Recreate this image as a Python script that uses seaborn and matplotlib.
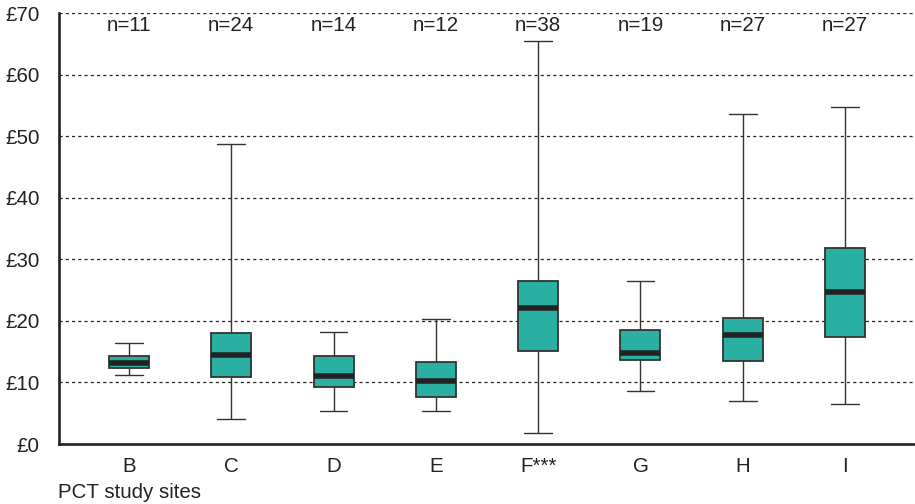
import matplotlib
matplotlib.use("Agg")
import matplotlib.pyplot as plt
import seaborn as sns
import pandas as pd

sites = ["B", "C", "D", "E", "F***", "G", "H", "I"]
counts = [11, 24, 14, 12, 38, 19, 27, 27]
whisker_low = [11.2, 4.1, 5.4, 5.3, 1.8, 8.6, 7.0, 6.5]
q1 = [12.3, 10.9, 9.3, 7.6, 15.1, 13.6, 13.5, 17.4]
median = [13.1, 14.4, 11.1, 10.3, 22.1, 14.8, 17.7, 24.7]
q3 = [14.3, 18.0, 14.3, 13.3, 26.5, 18.5, 20.5, 31.8]
whisker_high = [16.4, 48.7, 18.2, 20.3, 65.4, 26.5, 53.6, 54.7]
yticks = [0, 10, 20, 30, 40, 50, 60, 70]
ytick_labels = ["£0", "£10", "£20", "£30", "£40", "£50", "£60", "£70"]

rows = []
for s, a, b, c, d, e in zip(sites, whisker_low, q1, median, q3, whisker_high):
    for v in (a, b, c, d, e):
        rows.append({"site": s, "cost": v})
df = pd.DataFrame(rows)

sns.set_style("white")
plt.rcParams["font.family"] = ["Liberation Sans", "DejaVu Sans"]
FS = 14.8

fig = plt.figure(figsize=(9.15, 5.04), dpi=100)
ax = fig.add_axes([59 / 915, 1 - 444 / 504, 1 - 59 / 915, (444 - 13) / 504])

teal = "#2AB0A3"
sns.boxplot(
    data=df, x="site", y="cost", order=sites, ax=ax,
    whis=(0, 100), width=0.39, color=teal, saturation=1,
    linecolor="#333333", linewidth=1.0,
    medianprops={"color": "#222222", "linewidth": 4.0, "solid_capstyle": "butt"},
    capprops={"color": "#333333", "linewidth": 1.0},
    whiskerprops={"color": "#333333", "linewidth": 1.0},
    boxprops={"edgecolor": "#333333", "linewidth": 1.3},
    capwidths=0.27,
    showfliers=False,
)

ax.set_ylim(0, 70)
ax.set_xlim(-0.684, 7.684)
ax.set_yticks(yticks)
ax.set_yticklabels(ytick_labels)
ax.yaxis.grid(True, linestyle=(0, (2.5, 2.5)), color="#222222", linewidth=0.9)
ax.set_axisbelow(True)
ax.tick_params(axis="y", length=0, pad=14, labelsize=FS, colors="#222222")
ax.tick_params(axis="x", length=0, pad=9, labelsize=FS, colors="#222222")
ax.set_xlabel("")
ax.set_ylabel("")

for sp in ["top", "right"]:
    ax.spines[sp].set_visible(False)
for sp in ["left", "bottom"]:
    ax.spines[sp].set_color("#222222")
    ax.spines[sp].set_linewidth(1.9)

for i, n in enumerate(counts):
    ax.text(i, 68.0, f"n={n}", ha="center", va="center", fontsize=FS, color="#222222")

fig.text(58 / 915, 1 - 493 / 504, "PCT study sites", ha="left", va="center",
         fontsize=FS, color="#222222")

fig.savefig("out.png", dpi=100)
